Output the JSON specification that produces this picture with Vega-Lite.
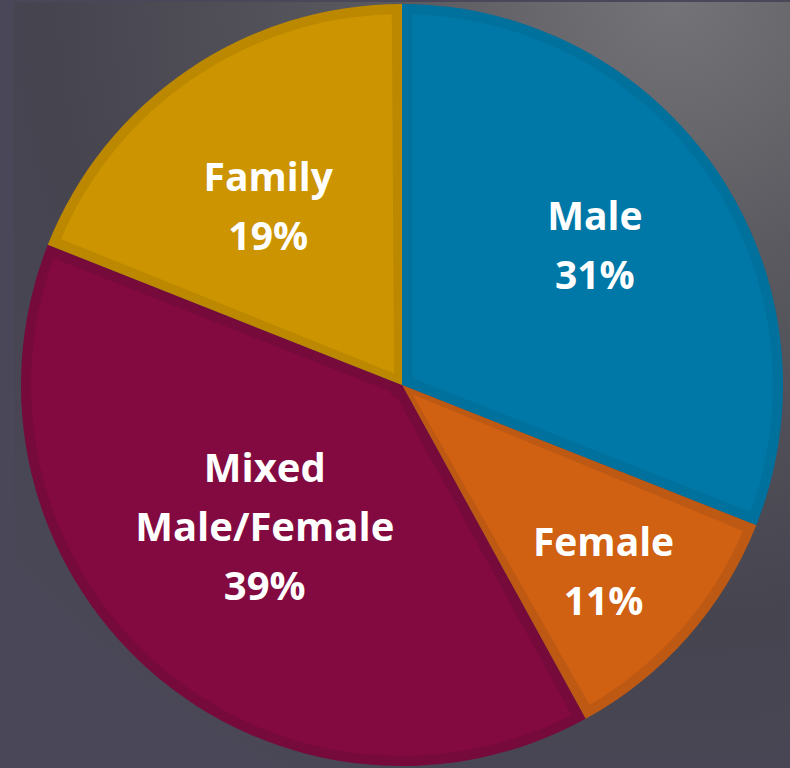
{
  "$schema": "https://vega.github.io/schema/vega-lite/v6.json",
  "width": 776,
  "height": 766,
  "autosize": "none",
  "padding": {"left": 14, "top": 2, "right": 0, "bottom": 0},
  "background": "#4a4858",
  "view": {
    "stroke": null,
    "fill": {
      "gradient": "radial",
      "x1": 0.85, "y1": 0.0, "r1": 0,
      "x2": 0.85, "y2": 0.0, "r2": 1.15,
      "stops": [
        {"offset": 0, "color": "#747478"},
        {"offset": 0.3, "color": "#5a5a60"},
        {"offset": 0.7, "color": "#46444f"},
        {"offset": 1, "color": "#4a4858"}
      ]
    }
  },
  "data": {
    "values": [
      {"idx": 1, "category": "Male", "label": "Male", "pct": 31},
      {"idx": 2, "category": "Female", "label": "Female", "pct": 11},
      {"idx": 3, "category": "Mixed Male/Female", "label": "Mixed\nMale/Female", "pct": 39},
      {"idx": 4, "category": "Family", "label": "Family", "pct": 19}
    ]
  },
  "transform": [
    {"stack": "pct", "groupby": [], "sort": [{"field": "idx", "order": "ascending"}], "as": ["t0", "t1"]},
    {"calculate": "(datum.t0 + datum.t1) / 2", "as": "tmid"},
    {"calculate": "datum.label + '\\n' + datum.pct + '%'", "as": "text"}
  ],
  "resolve": {"scale": {"color": "independent"}},
  "layer": [
    {
      "mark": {"type": "arc", "outerRadius": 381},
      "encoding": {
        "theta": {"field": "t0", "type": "quantitative", "scale": {"domain": [0, 100]}},
        "theta2": {"field": "t1"},
        "color": {
          "field": "category",
          "type": "nominal",
          "scale": {
            "domain": ["Male", "Female", "Mixed Male/Female", "Family"],
            "range": ["#00709c", "#be5914", "#760a3a", "#bb8800"]
          },
          "legend": null
        }
      }
    },
    {
      "mark": {"type": "arc", "outerRadius": 371, "innerRadius": 14, "padAngle": 0.055},
      "encoding": {
        "theta": {"field": "t0", "type": "quantitative"},
        "theta2": {"field": "t1"},
        "color": {
          "field": "category",
          "type": "nominal",
          "scale": {
            "domain": ["Male", "Female", "Mixed Male/Female", "Family"],
            "range": ["#0078a7", "#d06012", "#820a40", "#cc9400"]
          },
          "legend": null
        }
      }
    },
    {
      "transform": [{"filter": "datum.category === 'Male'"}],
      "mark": {"type": "text", "font": "Open Sans", "fontWeight": "bold", "fontSize": 39, "lineHeight": 59, "lineBreak": "\n", "color": "#ffffff", "align": "center", "baseline": "middle", "radius": 238, "dx": -4, "dy": -33},
      "encoding": {"theta": {"field": "tmid", "type": "quantitative"}, "text": {"field": "text", "type": "nominal"}}
    },
    {
      "transform": [{"filter": "datum.category === 'Female'"}],
      "mark": {"type": "text", "font": "Open Sans", "fontWeight": "bold", "fontSize": 39, "lineHeight": 59, "lineBreak": "\n", "color": "#ffffff", "align": "center", "baseline": "middle", "radius": 274, "dx": -4, "dy": -22},
      "encoding": {"theta": {"field": "tmid", "type": "quantitative"}, "text": {"field": "text", "type": "nominal"}}
    },
    {
      "transform": [{"filter": "datum.category === 'Mixed Male/Female'"}],
      "mark": {"type": "text", "font": "Open Sans", "fontWeight": "bold", "fontSize": 40, "lineHeight": 59, "lineBreak": "\n", "color": "#ffffff", "align": "center", "baseline": "middle", "radius": 197, "dx": -7, "dy": -63},
      "encoding": {"theta": {"field": "tmid", "type": "quantitative"}, "text": {"field": "text", "type": "nominal"}}
    },
    {
      "transform": [{"filter": "datum.category === 'Family'"}],
      "mark": {"type": "text", "font": "Open Sans", "fontWeight": "bold", "fontSize": 39, "lineHeight": 59, "lineBreak": "\n", "color": "#ffffff", "align": "center", "baseline": "middle", "radius": 222, "dx": -9, "dy": -22},
      "encoding": {"theta": {"field": "tmid", "type": "quantitative"}, "text": {"field": "text", "type": "nominal"}}
    }
  ]
}
